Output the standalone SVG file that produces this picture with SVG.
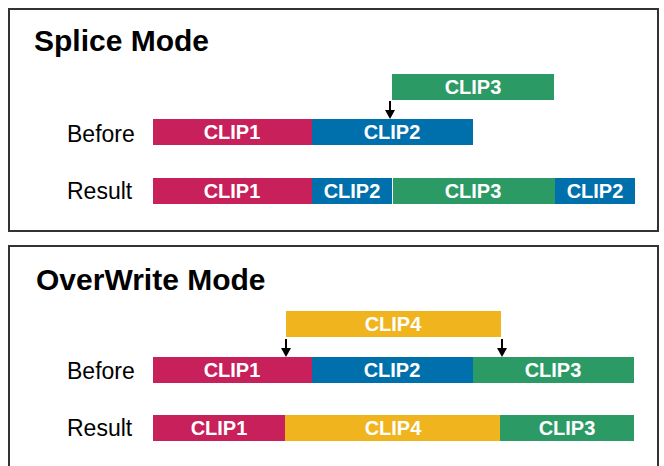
<svg xmlns="http://www.w3.org/2000/svg" width="664" height="466" viewBox="0 0 664 466">
<defs>
<style>
.panel{fill:#fff;stroke:#333;stroke-width:2}
.title{font-family:"Liberation Sans",Arial,sans-serif;font-weight:bold;font-size:30px;fill:#000}
.lbl{font-family:"Liberation Sans",Arial,sans-serif;font-size:23px;fill:#000}
.ct{font-family:"Liberation Sans",Arial,sans-serif;font-weight:bold;font-size:20px;fill:#fff;text-anchor:middle}
.c1{fill:#C8205A}.c2{fill:#0070AD}.c3{fill:#2C9A65}.c4{fill:#F0B41E}
.arr{stroke:#000;stroke-width:2;fill:none}
</style>
<marker id="ah" viewBox="0 0 9 10" refX="0" refY="5" markerWidth="9" markerHeight="10" markerUnits="userSpaceOnUse" orient="auto">
<path d="M0,0 L9,5 L0,10 Z" fill="#000"/>
</marker>
</defs>
<rect width="664" height="466" fill="#fff"/>
<g id="splice-panel">
<rect class="panel" x="9" y="9" width="649" height="222"/>
<text class="title" x="34" y="51">Splice Mode</text>
<text class="lbl" x="67" y="142">Before</text>
<text class="lbl" x="67" y="199">Result</text>
</g>
<g id="overwrite-panel">
<rect class="panel" x="9" y="246" width="649" height="230"/>
<text class="title" x="36" y="290">OverWrite Mode</text>
<text class="lbl" x="67" y="379">Before</text>
<text class="lbl" x="67" y="436">Result</text>
</g>
<g id="s-clip3-top"><rect class="c3" x="392" y="74" width="162" height="26"/><text class="ct" x="473" y="94">CLIP3</text></g>
<g id="s-before-clip1"><rect class="c1" x="153" y="119" width="159" height="26"/><text class="ct" x="232" y="139">CLIP1</text></g>
<g id="s-before-clip2"><rect class="c2" x="312" y="119" width="161" height="26"/><text class="ct" x="392" y="139">CLIP2</text></g>
<g id="s-result-clip1"><rect class="c1" x="153" y="178" width="159" height="26"/><text class="ct" x="232" y="198">CLIP1</text></g>
<g id="s-result-clip2a"><rect class="c2" x="312" y="178" width="80" height="26"/><text class="ct" x="352" y="198">CLIP2</text></g>
<g id="s-result-clip3"><rect class="c3" x="393" y="178" width="162" height="26"/><text class="ct" x="473" y="198">CLIP3</text></g>
<g id="s-result-clip2b"><rect class="c2" x="555" y="178" width="80" height="26"/><text class="ct" x="595" y="198">CLIP2</text></g>
<g id="o-clip4-top"><rect class="c4" x="286" y="311" width="215" height="26"/><text class="ct" x="393" y="331">CLIP4</text></g>
<g id="o-before-clip1"><rect class="c1" x="153" y="357" width="159" height="26"/><text class="ct" x="232" y="377">CLIP1</text></g>
<g id="o-before-clip2"><rect class="c2" x="312" y="357" width="161" height="26"/><text class="ct" x="392" y="377">CLIP2</text></g>
<g id="o-before-clip3"><rect class="c3" x="473" y="357" width="161" height="26"/><text class="ct" x="553" y="377">CLIP3</text></g>
<g id="o-result-clip1"><rect class="c1" x="153" y="415" width="132" height="26"/><text class="ct" x="219" y="435">CLIP1</text></g>
<g id="o-result-clip4"><rect class="c4" x="285" y="415" width="215" height="26"/><text class="ct" x="393" y="435">CLIP4</text></g>
<g id="o-result-clip3"><rect class="c3" x="500" y="415" width="134" height="26"/><text class="ct" x="567" y="435">CLIP3</text></g>
<g id="connectors">
<line class="arr" x1="390" y1="101" x2="390" y2="110" marker-end="url(#ah)"/>
<line class="arr" x1="286" y1="339" x2="286" y2="348" marker-end="url(#ah)"/>
<line class="arr" x1="502" y1="339" x2="502" y2="348" marker-end="url(#ah)"/>
</g>
</svg>
